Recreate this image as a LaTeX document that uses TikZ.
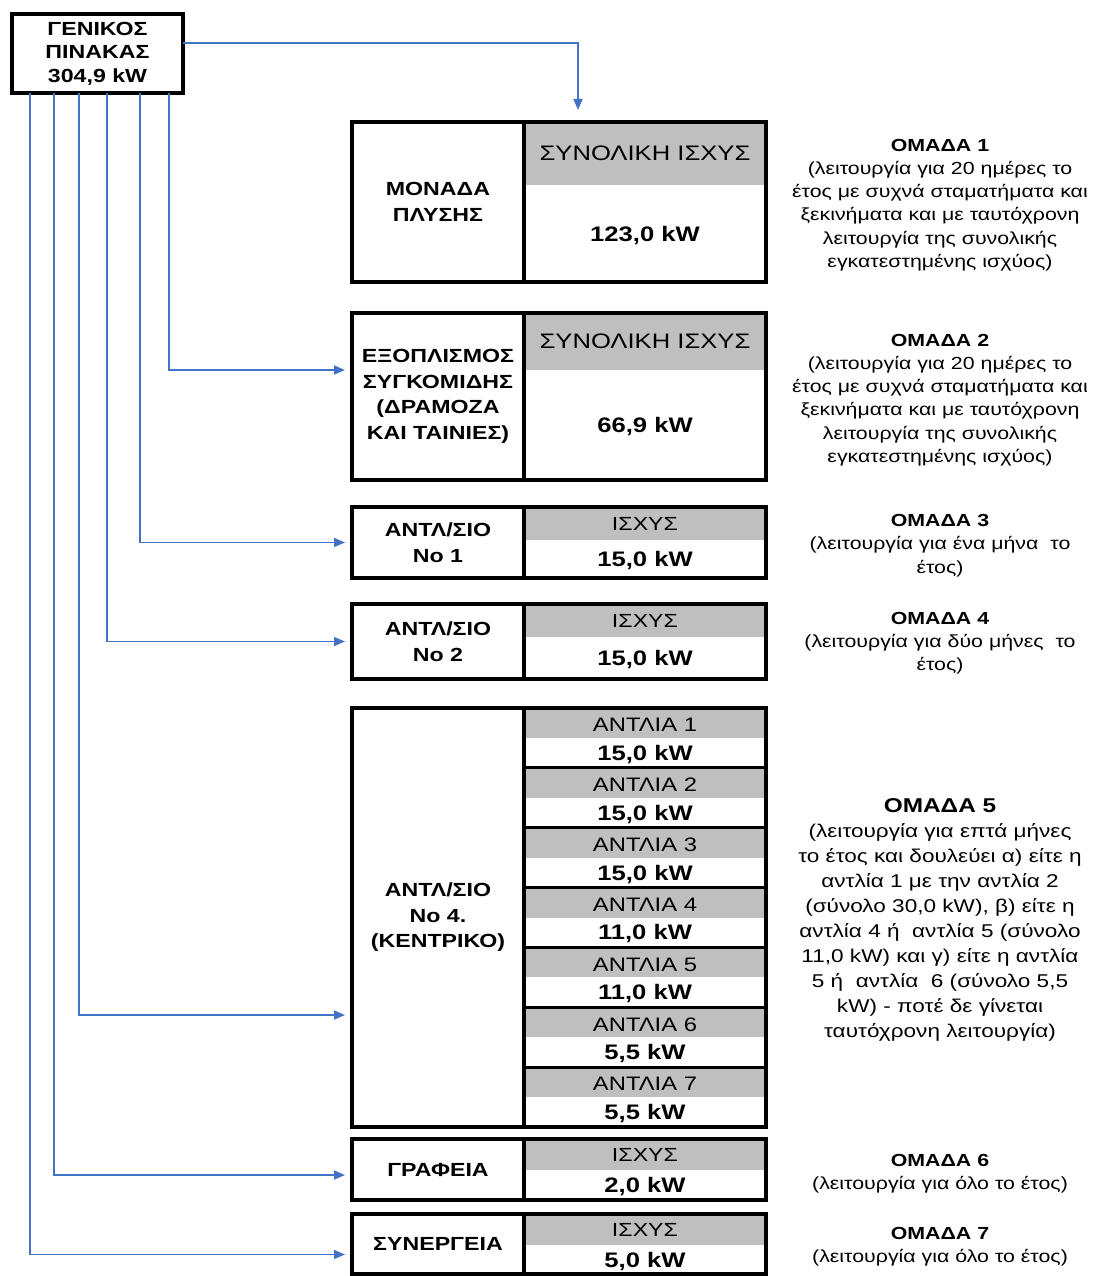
\documentclass[tikz,border=0pt]{standalone}
\usepackage{fontspec}
\setmainfont{Liberation Sans}
\newfontfamily\wf[FakeStretch=1.22]{Liberation Sans}
\usetikzlibrary{arrows.meta,calc}
\definecolor{hdr}{RGB}{191,191,191}
\definecolor{lnk}{RGB}{68,114,196}
\newcommand\mkgroup[8]{%
  \fill[hdr] (524,#2) rectangle (766,#4);
  \node[lcell, minimum height={#3-#2}] (#1) at (438,{(#2+#3)/2}) {#5};
  \node[rcell, minimum height={#3-#2}] (#1R) at (645,{(#2+#3)/2}) {};
  \node[htxt, font=\wf\fontsize{#8}{#8}\selectfont] (#1H) at (645,{(#2+#4)/2}) {#6};
  \node[vtxt] (#1V) at (645,{(#4+#3)/2}) {#7};
}
\begin{document}
\begin{tikzpicture}[x=1pt,y=-1pt,
  every node/.style={inner sep=0pt, outer sep=0pt},
  frame/.style={draw=black, line width=3.2pt},
  lcell/.style={frame, minimum width=172pt, align=center,
    font=\wf\bfseries\fontsize{19}{25.5}\selectfont},
  rcell/.style={frame, minimum width=242pt},
  htxt/.style={text height=14pt, text depth=0pt},
  vtxt/.style={text height=15pt, text depth=0pt, font=\wf\bfseries\fontsize{21}{21}\selectfont},
  note/.style={align=center, font=\wf\fontsize{17.5}{23.3}\selectfont},
  link/.style={draw=lnk, line width=1.6pt, -{Triangle[length=11pt,width=9pt]}, shorten >=7pt}]
\useasboundingbox (0,0) rectangle (1119,1276);
\fill[white] (0,0) rectangle (1119,1276);

% main panel
\node[frame, minimum width=171pt, minimum height=79pt, align=center,
  font=\wf\bfseries\fontsize{19}{23.5}\selectfont] (gen) at (97.5,53.5)
  {ΓΕΝΙΚΟΣ\\ΠΙΝΑΚΑΣ\\304,9 kW};

% groups
\mkgroup{g1}{122}{282}{185}{ΜΟΝΑΔΑ\\ΠΛΥΣΗΣ}{ΣΥΝΟΛΙΚΗ ΙΣΧΥΣ}{123,0 kW}{21}
\mkgroup{g2}{313}{480}{370}{ΕΞΟΠΛΙΣΜΟΣ\\ΣΥΓΚΟΜΙΔΗΣ\\(ΔΡΑΜΟΖΑ\\ΚΑΙ ΤΑΙΝΙΕΣ)}{ΣΥΝΟΛΙΚΗ ΙΣΧΥΣ}{66,9 kW}{21}
\mkgroup{g3}{507}{578}{540}{ΑΝΤΛ/ΣΙΟ\\No 1}{ΙΣΧΥΣ}{15,0 kW}{19}
\mkgroup{g4}{604}{679}{637}{ΑΝΤΛ/ΣΙΟ\\No 2}{ΙΣΧΥΣ}{15,0 kW}{19}
\mkgroup{g6}{1139}{1200}{1170}{ΓΡΑΦΕΙΑ}{ΙΣΧΥΣ}{2,0 kW}{19}
\mkgroup{g7}{1214}{1274}{1245}{ΣΥΝΕΡΓΕΙΑ}{ΙΣΧΥΣ}{5,0 kW}{19}

% group 5
\foreach \i/\v in {1/{15,0 kW},2/{15,0 kW},3/{15,0 kW},4/{11,0 kW},5/{11,0 kW},6/{5,5 kW},7/{5,5 kW}}{
  \fill[hdr] (524,{708+(\i-1)*59.857}) rectangle (766,{708+(\i-0.5)*59.857});
  \node[htxt, font=\wf\fontsize{19.5}{19.5}\selectfont] (p\i h) at (645,{708+(\i-0.72)*59.857}) {ΑΝΤΛΙΑ \i};
  \node[vtxt] (p\i v) at (645,{708+(\i-0.25)*59.857}) {\v};
}
\foreach \i in {1,...,6}{
  \draw[frame] (524,{708+\i*59.857}) -- (766,{708+\i*59.857});
}
\node[lcell, minimum height=419pt] (g5) at (438,917.5) {ΑΝΤΛ/ΣΙΟ\\No 4.\\(ΚΕΝΤΡΙΚΟ)};
\node[rcell, minimum height=419pt] (g5R) at (645,917.5) {};

% notes
\node[note] (n1) at (940,205) {{\bfseries ΟΜΑΔΑ 1}\\(λειτουργία για 20 ημέρες το\\έτος με συχνά σταματήματα και\\ξεκινήματα και με ταυτόχρονη\\λειτουργία της συνολικής\\εγκατεστημένης ισχύος)};
\node[note] (n2) at (940,400) {{\bfseries ΟΜΑΔΑ 2}\\(λειτουργία για 20 ημέρες το\\έτος με συχνά σταματήματα και\\ξεκινήματα και με ταυτόχρονη\\λειτουργία της συνολικής\\εγκατεστημένης ισχύος)};
\node[note] (n3) at (940,545.5) {{\bfseries ΟΜΑΔΑ 3}\\(λειτουργία για ένα μήνα \ το\\έτος)};
\node[note] (n4) at (940,643) {{\bfseries ΟΜΑΔΑ 4}\\(λειτουργία για δύο μήνες \ το\\έτος)};
\node[note, font=\wf\fontsize{18.5}{25}\selectfont] (n5) at (940,919.5) {{\bfseries\fontsize{20}{25}\selectfont ΟΜΑΔΑ 5}\\(λειτουργία για επτά μήνες\\το έτος και δουλεύει α) είτε η\\αντλία 1 με την αντλία 2\\(σύνολο 30,0 kW), β) είτε η\\αντλία 4 ή \ αντλία 5 (σύνολο\\11,0 kW) και γ) είτε η αντλία\\5 ή \ αντλία \ 6 (σύνολο 5,5\\kW) - ποτέ δε γίνεται\\ταυτόχρονη λειτουργία)};
\node[note] (n6) at (940,1173.5) {{\bfseries ΟΜΑΔΑ 6}\\(λειτουργία για όλο το έτος)};
\node[note] (n7) at (940,1247) {{\bfseries ΟΜΑΔΑ 7}\\(λειτουργία για όλο το έτος)};

% connectors
\draw[link, shorten >=12pt] ([yshift=10.5pt]gen.east) -| ([xshift=-67pt]g1R.north);
\draw[link] ([xshift=157pt]gen.south west) |- ([yshift=26.5pt]g2.west);
\draw[link] ([xshift=128pt]gen.south west) |- (g3.west);
\draw[link] ([xshift=95pt]gen.south west) |- (g4.west);
\draw[link] ([xshift=67pt]gen.south west) |- ([yshift=-97.5pt]g5.west);
\draw[link] ([xshift=42pt]gen.south west) |- ([yshift=-5.5pt]g6.west);
\draw[link] ([xshift=18pt]gen.south west) |- ([yshift=-10.5pt]g7.west);
\end{tikzpicture}
\end{document}
